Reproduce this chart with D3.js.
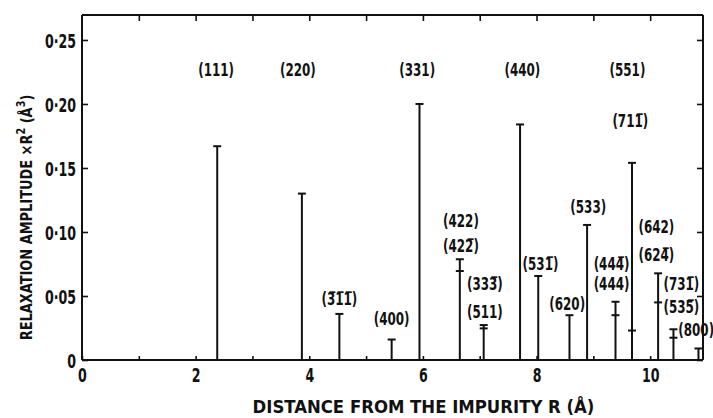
<!DOCTYPE html>
<html>
<head>
<meta charset="utf-8">
<script src="https://cdn.jsdelivr.net/npm/d3@7/dist/d3.min.js"></script>
<style>
  body { margin: 0; background: #fff; }
  svg text { font-family: "DejaVu Sans Condensed", "DejaVu Sans", sans-serif; font-weight: bold; fill: #111; }
</style>
</head>
<body>
<svg id="chart" width="713" height="418"></svg>
<script>
const OL = "\u0305"; // combining overline

// distance from the impurity R (Å) of each neighbour shell
const distances = [2.38, 3.87, 4.53, 5.45, 5.94, 6.65, 7.07, 7.71, 8.03, 8.58, 8.89, 9.39, 9.68, 10.14, 10.41, 10.85];
// relaxation amplitude * R^2 (Å^3), longest line per shell
const amplitudes = [0.167, 0.130, 0.036, 0.016, 0.200, 0.0787, 0.0273, 0.184, 0.0656, 0.035, 0.1055, 0.0455, 0.154, 0.0677, 0.024, 0.009];
// second (shorter) amplitude for shells holding two families, null if none
const secondAmps = [null, null, null, null, null, 0.0695, 0.0247, null, null, null, null, 0.035, 0.023, 0.045, 0.0174, null];

// shell labels and where they sit (x in Å, y in amplitude units)
const labelText = ["(111)", "(220)", "(331)", "(440)", "(551)", "(71" + "1" + OL + ")",
  "(3" + OL + "1" + OL + "1" + OL + ")", "(400)", "(422)", "(422" + OL + ")", "(333" + OL + ")", "(511)",
  "(531" + OL + ")", "(620)", "(533)", "(444" + OL + ")", "(444)", "(642)", "(624" + OL + ")",
  "(731" + OL + ")", "(535" + OL + ")", "(800)"];
const labelX = [2.36, 3.80, 5.90, 7.75, 9.60, 9.65, 4.53, 5.45, 6.67, 6.67, 7.09, 7.09, 8.07, 8.54, 8.91, 9.32, 9.32, 10.11, 10.11, 10.55, 10.55, 10.81];
const labelY = [0.222, 0.222, 0.222, 0.222, 0.222, 0.182, 0.043, 0.027, 0.104, 0.084, 0.055, 0.033, 0.070, 0.039, 0.115, 0.070, 0.055, 0.099, 0.077, 0.055, 0.037, 0.019];

const xTicks = [0, 2, 4, 6, 8, 10];
const yTicks = [0, 0.05, 0.10, 0.15, 0.20, 0.25];

const svg = d3.select("#chart"),
      margin = {top: 15, right: 10, bottom: 58, left: 82},
      width = +svg.attr("width") - margin.left - margin.right,
      height = +svg.attr("height") - margin.top - margin.bottom;

const g = svg.append("g")
  .attr("transform", "translate(" + margin.left + "," + margin.top + ")");

const x = d3.scaleLinear().domain([0, 10.93]).range([0, width]);
const y = d3.scaleLinear().domain([0, 0.2695]).range([height, 0]);

const fmt = d => d === 0 ? "0" : d3.format(".2f")(d).replace(".", "\u00b7");

// frame + axes, ticks point inwards
const axLeft = g.append("g").call(d3.axisLeft(y).tickValues(yTicks).tickSize(-6).tickPadding(6).tickFormat(fmt));
const axRight = g.append("g").attr("transform", "translate(" + width + ",0)")
  .call(d3.axisRight(y).tickValues(yTicks).tickSize(-6).tickFormat(""));
const axTop = g.append("g").call(d3.axisTop(x).tickValues(d3.range(1, 11)).tickSize(-6).tickFormat(""));
const axBottom = g.append("g").attr("transform", "translate(0," + height + ")")
  .call(d3.axisBottom(x).tickValues(d3.range(0, 11)).tickSize(-4).tickPadding(8)
    .tickFormat(d => xTicks.includes(d) ? d : ""));

[axLeft, axRight, axTop, axBottom].forEach(a => {
  a.select(".domain").attr("stroke", "#111").attr("stroke-width", 2);
  a.selectAll(".tick line").attr("stroke", "#111").attr("stroke-width", 1.6);
});
axLeft.select(".domain").attr("d", "M0," + height + "V0");
axRight.select(".domain").attr("d", "M0," + height + "V0");
axTop.select(".domain").attr("d", "M0,0H" + width);
axBottom.select(".domain").attr("d", "M0,0H" + width);

axLeft.selectAll(".tick text")
  .attr("font-size", 20)
  .attr("font-family", "'DejaVu Sans Condensed', sans-serif")
  .attr("dy", "0.36em")
  .attr("transform", function () { return "translate(" + (+d3.select(this).attr("x")) + ",0) scale(0.7,1)"; })
  .attr("x", 0);
axBottom.selectAll(".tick text")
  .attr("font-size", 20)
  .attr("font-family", "'DejaVu Sans Condensed', sans-serif")
  .attr("dy", "0.72em")
  .attr("transform", "scale(0.7,1)");

// axis titles
g.append("text")
  .attr("transform", "translate(" + (width / 2 + 31) + "," + (height + 53) + ") scale(1.02,1)")
  .attr("text-anchor", "middle")
  .attr("font-size", 18)
  .text("DISTANCE FROM THE IMPURITY R (\u00c5)");

const yt = g.append("text")
  .attr("transform", "translate(-50," + (height / 2 + 30) + ") rotate(-90) scale(0.9,1)")
  .attr("text-anchor", "middle")
  .attr("font-size", 16);
yt.append("tspan").text("RELAXATION AMPLITUDE \u00d7R");
yt.append("tspan").attr("dy", -7).attr("font-size", 12).text("2");
yt.append("tspan").attr("dy", 7).text(" (\u00c5");
yt.append("tspan").attr("dy", -7).attr("font-size", 12).text("3");
yt.append("tspan").attr("dy", 7).text(")");

// bars
const shells = distances.map((d, i) => ({r: d, a: amplitudes[i], b: secondAmps[i]}));

g.selectAll(".stem").data(shells).enter().append("line")
  .attr("class", "stem")
  .attr("x1", d => x(d.r)).attr("x2", d => x(d.r))
  .attr("y1", y(0)).attr("y2", d => y(d.a))
  .attr("stroke", "#111").attr("stroke-width", 2);

g.selectAll(".cap").data(shells).enter().append("line")
  .attr("class", "cap")
  .attr("x1", d => x(d.r) - 4).attr("x2", d => x(d.r) + 4)
  .attr("y1", d => y(d.a)).attr("y2", d => y(d.a))
  .attr("stroke", "#111").attr("stroke-width", 2);

g.selectAll(".cross").data(shells.filter(d => d.b !== null)).enter().append("line")
  .attr("class", "cross")
  .attr("x1", d => x(d.r) - 4).attr("x2", d => x(d.r) + 4)
  .attr("y1", d => y(d.b)).attr("y2", d => y(d.b))
  .attr("stroke", "#111").attr("stroke-width", 2);

// shell labels
g.selectAll(".lbl").data(labelText).enter().append("text")
  .attr("class", "lbl")
  .attr("transform", (d, i) => "translate(" + x(labelX[i]) + "," + y(labelY[i]) + ") scale(0.78,1)")
  .attr("text-anchor", "middle")
  .attr("font-size", 17)
  .text(d => d);
</script>
</body>
</html>
